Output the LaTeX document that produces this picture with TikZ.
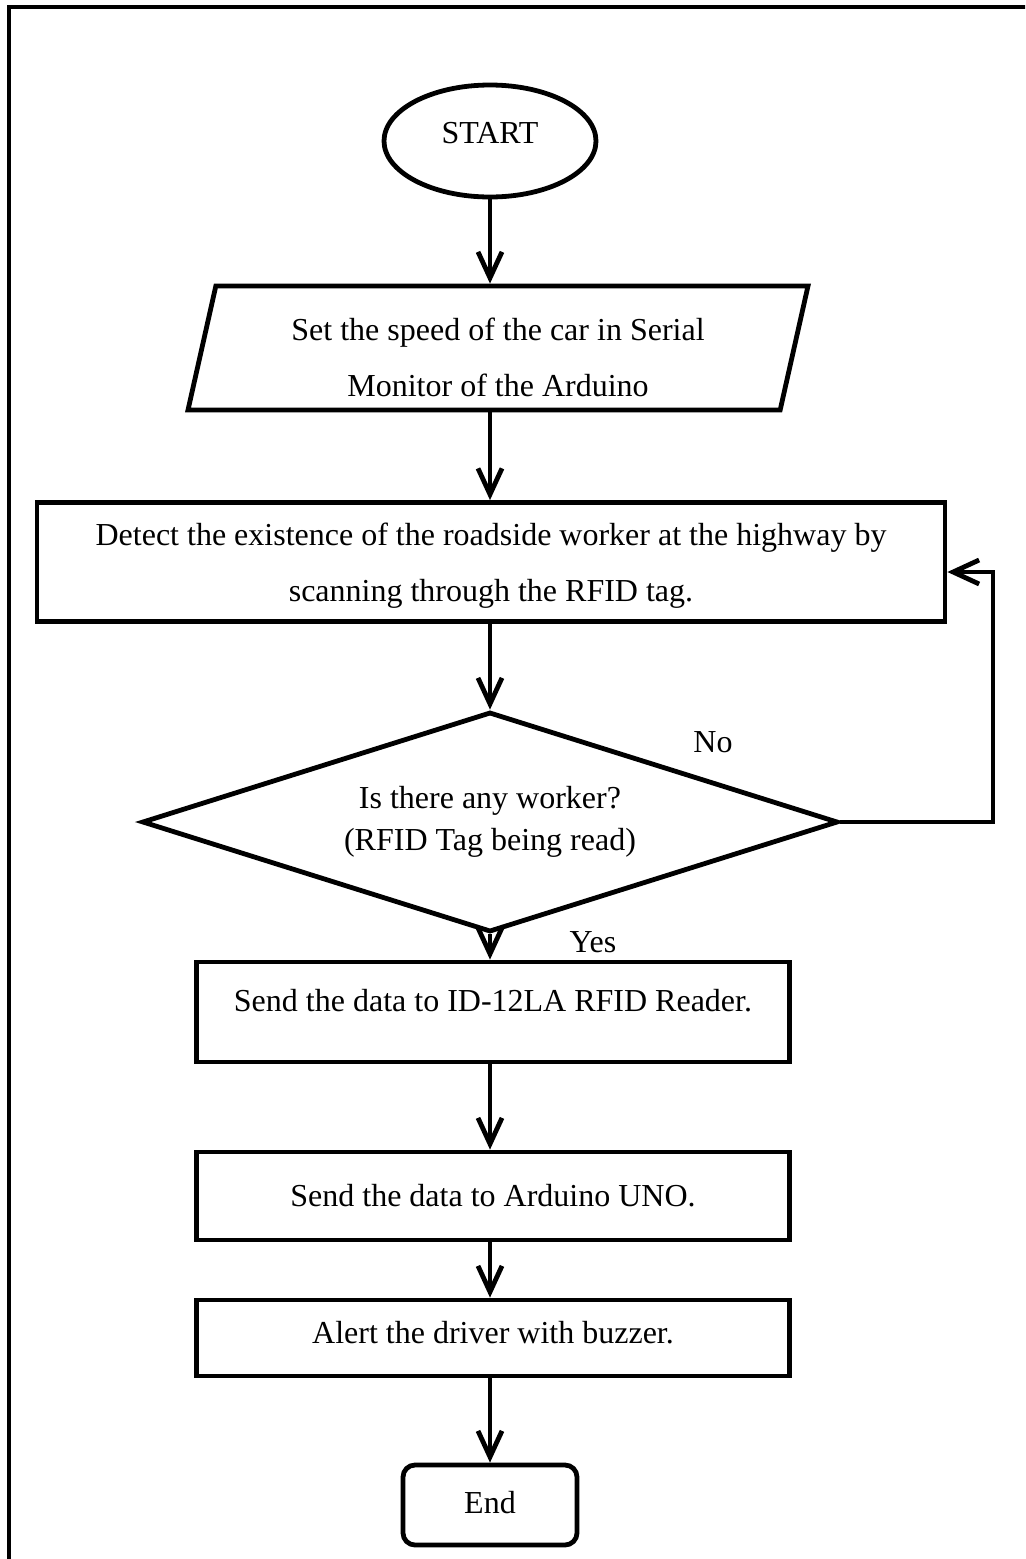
\documentclass[tikz,border=0pt]{standalone}
\usepackage{fontspec}
\setmainfont{Liberation Serif}
\usetikzlibrary{positioning,arrows.meta,shapes.geometric}

\newcommand{\topgap}[1]{\rule{0pt}{#1}}

\begin{document}
\begin{tikzpicture}[x=0.5pt, y=-0.5pt,
  every node/.style={font=\fontsize{16}{28}\selectfont},
  term/.style={draw, ellipse, line width=2.4pt, minimum width=106pt, minimum height=56pt},
  io/.style={draw, trapezium, trapezium left angle=76, trapezium right angle=104,
             trapezium stretches body, line width=2.4pt, minimum width=310pt,
             minimum height=62pt, align=center},
  proc/.style={draw, rectangle, line width=2.4pt, align=center},
  dec/.style={draw, diamond, aspect=3.17, inner sep=1pt, line width=2.4pt,
              minimum width=348pt, minimum height=110pt,
              align=center, font=\fontsize{16}{21}\selectfont},
  stop/.style={draw, rectangle, rounded corners=6pt, line width=2.4pt,
               minimum width=87pt, minimum height=40pt},
  flow/.style={-{Straight Barb[length=13pt,width=12pt]}, line width=2.4pt},
  ans/.style={inner sep=0pt},
]
\useasboundingbox (0,0) rectangle (1025,1559);
\clip (0,0) rectangle (1025,1559);

% page frame
\draw[line width=2pt] (9,1600) -- (9,7) -- (1100,7);

% ---------------- steps ----------------
\node[term, text depth=8pt] (start) at (490,141) {START};
\node[io]   (speed)  at (498,348) {\topgap{21pt}Set the speed of the car in Serial\\Monitor of the Arduino};
\node[proc, minimum width=454pt, minimum height=59.5pt] (detect) at (491,562)
  {\topgap{15pt}Detect the existence of the roadside worker at the highway by\\scanning through the RFID tag.};
\node[dec]  (worker) at (490,822) {Is there any worker?\\(RFID Tag being read)};
\node[proc, minimum width=296.5pt, minimum height=50pt, text depth=12pt] (reader) at (493,1012)
  {Send the data to ID-12LA RFID Reader.};
\node[proc, minimum width=296.5pt, minimum height=44pt] (uno) at (493,1196)
  {Send the data to Arduino UNO.};
\node[proc, minimum width=296.5pt, minimum height=38pt, text depth=6pt] (alert) at (493,1338)
  {Alert the driver with buzzer.};
\node[stop, text depth=3pt] (end) at (490,1505) {End};

\node[ans] (no)  at (713,742) {No};
\node[ans] (yes) at (593,942) {Yes};

% ---------------- connectors ----------------
\draw[flow] (start.south) -- (start.south |- speed.north);
\draw[flow] (start.south |- speed.south) -- (start.south |- detect.north);
\draw[flow] (start.south |- detect.south) -- (worker.north);
\draw[flow] (worker.south) -- (worker.south |- reader.north);
\draw[flow] (worker.south |- reader.south) -- (worker.south |- uno.north);
\draw[flow] (worker.south |- uno.south) -- (worker.south |- alert.north);
\draw[flow] (worker.south |- alert.south) -- (end.north);

% no: back to detection
\coordinate (loop) at (993,572);
\draw[flow] (worker.east) -| (loop) -- (detect.east |- loop);

\end{tikzpicture}
\end{document}
